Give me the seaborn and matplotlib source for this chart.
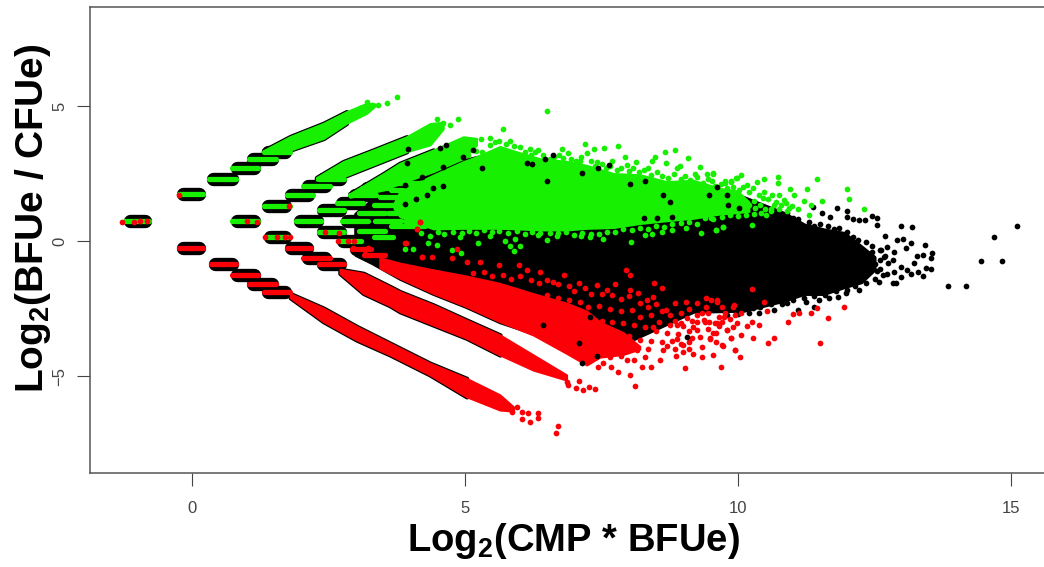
import matplotlib
matplotlib.use('Agg')
import matplotlib.pyplot as plt
import seaborn as sns

# tick values
x_ticks = [0, 5, 10, 15]
y_ticks = [-5, 0, 5]

# short horizontal runs of low count genes: y, first x, last x
up_dash_y = [1.73, 2.30, 2.72, 3.04, 3.31, 0.74, 0.74, 1.30, 1.70, 2.04, 2.30, 0.74, 1.15, 1.42,
             1.70, 1.98, 0.74, 0.74, 1.05, 1.33, 0.74, 0.35, 0.38, 0.16, 0.0, 0.16,
             1.62, 1.88, 2.15, 0.55, 1.05, 0.74]
up_dash_x0 = [-0.28, 0.27, 0.70, 1.0, 1.28, -1.26, 0.70, 1.28, 1.70, 2.0, 2.28, 1.86, 2.28, 2.62,
              2.86, 3.08, 2.71, 3.32, 3.02, 3.29, 3.87, 2.28, 3.02, 1.31, 2.65, 3.29,
              3.40, 3.60, 3.70, 3.60, 3.55, 4.30]
up_dash_x1 = [0.24, 0.85, 1.25, 1.58, 1.83, -0.74, 1.25, 1.83, 2.25, 2.56, 2.83, 2.41, 2.83, 3.17,
              3.41, 3.63, 3.26, 3.87, 3.57, 3.84, 4.36, 2.83, 3.57, 1.83, 3.14, 3.72,
              4.00, 4.20, 4.25, 4.30, 4.20, 4.90]

down_dash_y = [-0.27, -0.86, -1.26, -1.59, -1.88, -0.27, -0.62, -0.86, -0.31, -0.52]
down_dash_x0 = [-0.28, 0.30, 0.70, 1.0, 1.28, 1.70, 2.0, 2.28, 2.89, 3.11]
down_dash_x1 = [0.24, 0.85, 1.25, 1.58, 1.83, 2.22, 2.56, 2.83, 3.32, 3.57]

# green diagonal arms: x, lower edge, upper edge
arm_u1_x = [1.31, 1.80, 2.41, 2.83, 3.20, 3.35]
arm_u1_lo = [3.25, 3.37, 3.80, 4.36, 4.73, 5.00]
arm_u1_hi = [3.35, 3.87, 4.36, 4.79, 5.10, 5.08]

arm_u2_x = [2.28, 2.77, 3.32, 3.93, 4.36, 4.60]
arm_u2_lo = [2.25, 2.38, 2.82, 3.31, 3.56, 4.15]
arm_u2_hi = [2.35, 2.94, 3.37, 3.86, 4.35, 4.40]

arm_u3_x = [2.89, 3.51, 3.81, 4.42, 4.97, 5.21]
arm_u3_lo = [1.62, 1.89, 2.13, 2.57, 3.06, 3.55]
arm_u3_hi = [1.75, 2.50, 2.88, 3.37, 3.86, 3.80]

# red diagonal arms
arm_d1_x = [1.80, 2.41, 3.02, 3.63, 4.36, 5.03, 5.64, 5.89]
arm_d1_lo = [-2.10, -2.99, -3.67, -4.22, -4.96, -5.77, -6.26, -6.30]
arm_d1_hi = [-1.95, -2.49, -3.17, -3.79, -4.53, -5.09, -5.70, -6.15]

arm_d2_x = [2.71, 3.14, 3.63, 3.81, 4.42, 5.03, 5.64, 6.25, 6.86]
arm_d2_lo = [-1.20, -1.94, -2.40, -2.62, -3.11, -3.60, -4.22, -4.78, -5.15]
arm_d2_hi = [-1.05, -1.20, -1.69, -1.88, -2.37, -2.93, -3.48, -4.22, -4.96]

# dense clouds
black_x = [3.0, 3.3, 3.81, 4.42, 5.03, 5.64, 6.37, 7.23, 8.21, 9.18, 10.11, 10.84, 11.21, 11.57, 11.94, 12.25, 12.49]
black_hi = [1.00, 1.50, 1.95, 2.50, 3.00, 3.30, 2.90, 2.60, 2.20, 2.00, 1.60, 1.02, 0.59, 0.41, 0.28, -0.21, -0.60]
black_lo = [-0.50, -0.80, -1.38, -1.94, -2.43, -2.99, -3.48, -4.40, -3.50, -2.60, -2.56, -2.19, -1.94, -1.94, -1.69, -1.51, -1.05]

green_x = [3.70, 3.81, 4.42, 4.97, 5.21, 5.64, 5.95, 6.37, 6.86, 7.23, 7.72, 8.21, 8.69, 9.18, 9.67, 9.99, 10.20]
green_hi = [1.40, 1.85, 2.44, 2.94, 3.12, 3.50, 3.30, 3.05, 2.95, 2.80, 2.50, 2.45, 2.20, 2.25, 1.95, 1.85, 1.45]
green_lo = [1.20, 0.90, 0.45, 0.47, 0.47, 0.47, 0.45, 0.41, 0.41, 0.47, 0.50, 0.65, 0.75, 0.84, 1.00, 1.05, 1.10]

red_x = [3.44, 3.81, 4.42, 5.03, 5.64, 6.25, 6.86, 7.23, 7.47, 7.90, 8.20]
red_hi = [-0.62, -0.82, -1.07, -1.30, -1.57, -1.95, -2.30, -2.60, -3.00, -3.40, -3.90]
red_lo = [-1.00, -1.38, -1.94, -2.43, -2.99, -3.48, -4.16, -4.59, -4.30, -4.20, -4.00]

# single points that stand apart
black_px = [15.11, 14.68, 14.45, 14.84, 13.84, 14.18, 12.98, 13.18, 13.42, 13.56, 13.53, 13.54, 13.38, 13.28,
            13.44, 13.38, 13.30, 13.16, 13.08, 13.02, 12.92, 12.70, 12.55, 12.46, 12.54, 12.33, 12.22, 12.11,
            11.99, 11.99, 11.81, 11.53, 11.38, 11.68, 12.83, 12.89, 12.58, 12.98, 13.16, 13.22, 13.10, 12.86,
            12.73, 12.98, 12.83, 12.67, 12.86, 12.73, 12.61, 12.22, 11.97, 11.83, 11.67, 11.48, 11.25, 11.10,
            11.39, 10.90, 10.66, 10.28, 10.38,
            10.9, 11.0, 11.1, 11.3, 11.4, 11.5, 11.65, 11.75, 11.85, 12.0, 12.1, 12.2, 12.35, 12.45, 12.6, 12.7,
            12.75, 12.6, 12.65, 12.5, 12.35, 12.15, 12.0, 11.8, 11.6, 11.4, 11.2, 11.0, 10.8, 10.6, 10.4, 10.2,
            10.0, 9.8, 12.4, 12.5, 12.35, 12.55, 12.45, 12.6]
black_py = [0.55, 0.16, -0.74, -0.74, -1.67, -1.67, 0.55, 0.53, -0.16, -0.46, -0.64, -1.05, -0.52, -0.56,
            -1.01, -1.30, -1.14, -0.09, -0.27, 0.06, 0.04, 0.18, 0.59, 0.94, 0.84, 0.78, 0.78, 0.80,
            1.12, 0.88, 1.22, 1.05, 1.27, 0.90, -1.57, -1.57, -1.51, -1.32, -1.22, -0.83, -1.07, -1.14,
            -1.22, -0.95, -0.70, -0.58, -0.40, -0.21, -0.33, -1.82, -1.94, -2.06, -2.12, -2.19, -2.25, -2.56,
            -2.43, -2.31, -2.56, -2.49, -2.65,
            1.05, 0.85, 0.80, 0.70, 0.55, 0.62, 0.55, 0.45, 0.50, 0.35, 0.15, 0.05, -0.05, -0.20, -0.35, -0.55,
            -0.80, -1.05, -1.25, -1.40, -1.55, -1.65, -1.80, -1.85, -2.00, -2.05, -2.10, -2.20, -2.35, -2.35,
            -2.45, -2.65, -2.70, -2.75, -0.55, -0.85, -1.25, -1.10, -0.40, -0.70]

# black specks showing through the green and red clouds
speck_x = [6.47, 7.14, 6.13, 6.22, 6.62, 7.63, 7.44, 6.50, 8.30, 8.63, 8.75, 9.46, 9.79, 9.61, 8.02, 5.15, 4.97,
           4.60, 4.21, 3.90, 4.65, 3.96, 4.54, 3.93, 4.11, 4.30, 4.42, 4.60, 5.31, 3.90, 8.51, 8.27, 8.79, 10.01,
           9.82, 7.41, 7.14, 7.29, 7.08, 6.43, 9.06]
speck_y = [3.02, 2.53, 2.90, 2.85, 3.18, 2.80, 2.69, 2.22, 2.22, 1.70, 1.46, 1.70, 1.70, 1.99, 2.10, 3.37, 3.10,
           2.75, 2.38, 2.07, 3.55, 3.39, 3.45, 2.88, 1.55, 1.70, 1.95, 2.04, 2.69, 1.36, 0.84, 0.84, 0.90, 1.21,
           1.33, -4.26, -4.53, -2.80, -3.79, -3.11, -3.57]

green_px = [3.75, 3.57, 3.41, 3.29, 3.20, 3.08, 4.88, 4.73, 4.48, 4.60, 5.70, 5.46, 5.29, 6.50, 7.20, 7.36, 7.55,
            7.80, 6.78, 6.89, 6.34, 6.19, 7.23, 7.69, 7.41, 7.11, 7.93, 8.14, 8.48, 8.66, 8.85, 9.08, 8.43, 8.69,
            8.94, 8.36, 7.96, 9.30, 9.55, 9.21, 8.88, 9.98, 9.88, 9.76, 9.52,
            11.45, 12.0, 12.03, 12.3, 11.54, 11.27, 10.74, 10.73, 10.48, 10.35, 10.05, 9.97, 9.87, 9.55, 9.44,
            9.77, 10.17, 10.48, 10.96, 11.03, 10.75, 11.21, 11.33, 11.09, 10.93, 10.84, 10.66, 10.51, 10.26,
            9.72, 9.59, 11.30, 10.32, 10.11, 9.96, 9.74, 9.50,
            5.24, 5.73, 5.92, 5.82, 6.01, 5.90, 4.77, 4.92, 8.04, 8.30, 8.43, 8.60, 8.79, 9.05, 9.32, 9.59, 9.72,
            7.53, 7.29, 7.13, 6.68, 6.50, 6.34, 5.46, 4.91, 4.48, 4.33, 4.05, 3.90]
green_py = [5.32, 5.10, 5.04, 5.04, 5.16, 4.91, 4.51, 4.30, 4.51, 4.38, 4.14, 3.80, 3.76, 4.83, 3.59, 3.42, 3.43,
            3.51, 3.39, 3.27, 3.37, 3.41, 3.27, 2.97, 2.94, 2.97, 3.10, 2.94, 3.12, 3.28, 3.36, 3.07, 2.96, 2.88,
            2.79, 2.69, 2.81, 2.73, 2.51, 2.48, 2.69, 2.32, 2.22, 2.13, 2.22,
            2.30, 1.94, 1.57, 1.18, 1.47, 1.91, 2.38, 2.15, 2.31, 2.18, 2.46, 2.32, 2.20, 2.50, 2.50,
            2.23, 2.07, 1.83, 1.91, 1.70, 1.70, 1.49, 1.33, 1.19, 1.21, 1.52, 1.33, 0.96, 0.59,
            0.53, 0.41, 0.96, 1.21, 1.27, 1.21, 1.39, 0.84,
            -0.06, 0.01, 0.06, -0.17, -0.17, -0.37, -0.33, -0.43, -0.05, 0.22, 0.26, 0.32, 0.41, 0.47, 0.28, 0.41,
            0.53, 0.06, 0.16, 0.18, 0.18, 0.04, 0.22, 0.18, 0.16, -0.15, -0.09, -0.30, -0.30]

# green points along the rough top and bottom of the cloud
green_edge_x = [5.05, 5.2, 5.32, 5.45, 5.55, 5.62, 5.75, 5.82, 5.9, 6.0, 6.1, 6.2, 6.28, 6.42, 6.55, 6.63, 6.72,
                6.8, 6.95, 7.03, 7.12, 7.3, 7.38, 7.5, 7.58, 7.66, 7.78, 7.85, 8.0, 8.08, 8.18, 8.28, 8.4, 8.52,
                8.6, 8.72, 8.82, 8.95, 9.03, 9.12, 9.25, 9.35, 9.45, 9.58, 9.68, 9.8, 9.9, 10.02, 10.1, 10.2,
                10.28, 10.38, 10.45, 10.55, 10.62, 10.7, 10.78, 10.88, 10.98, 10.3, 10.4, 10.5, 10.2, 10.6,
                4.2, 4.35, 4.5, 4.62, 4.78, 4.95, 5.08, 5.2, 5.35, 5.5, 5.62, 5.78, 5.95, 6.1, 6.22, 6.38, 6.55,
                6.7, 6.85, 7.0, 7.15, 7.3, 7.45, 7.6, 7.75, 7.9, 8.05, 8.2, 8.35, 8.5, 8.65, 8.8, 8.95, 9.1, 9.25,
                9.4, 9.55, 9.7, 9.85, 10.0, 10.15, 10.3, 10.42, 10.6, 10.75, 10.9]
green_edge_y = [3.2, 3.35, 3.3, 3.55, 3.65, 3.72, 3.6, 3.7, 3.52, 3.48, 3.3, 3.18, 3.28, 3.2, 3.05, 3.1, 3.2,
                3.08, 3.05, 2.95, 3.12, 2.95, 2.78, 2.85, 2.7, 2.78, 2.62, 2.72, 2.6, 2.72, 2.55, 2.62, 2.45, 2.56,
                2.4, 2.32, 2.48, 2.3, 2.42, 2.25, 2.38, 2.15, 2.28, 2.05, 2.12, 1.95, 2.0, 1.9, 2.0, 1.82,
                1.95, 1.7, 1.6, 1.55, 1.7, 1.45, 1.35, 1.4, 1.3, 1.5, 1.35, 1.2, 1.35, 1.2,
                0.3, 0.2, 0.35, 0.25, 0.35, 0.3, 0.38, 0.28, 0.4, 0.33, 0.38, 0.28, 0.38, 0.25, 0.33, 0.3, 0.3,
                0.28, 0.33, 0.22, 0.3, 0.26, 0.25, 0.35, 0.32, 0.45, 0.42, 0.5, 0.45, 0.55, 0.52, 0.62, 0.65, 0.72,
                0.62, 0.85, 0.8, 0.9, 0.98, 0.92, 0.95, 1.0, 1.05, 1.1, 1.18, 1.1]

red_px = [-1.28, -1.07, -0.95, -0.82, -0.23, 1.0, 1.19, 1.78, 1.33, 1.55, 1.70, 1.80, 2.44, 2.69, 2.68, 2.85, 2.97,
          2.95, 3.23, 3.17, 4.18, 4.12, 3.90, 4.21, 4.86, 4.18, 4.13, 3.92,
          5.95, 6.04, 6.16, 6.34, 6.34, 6.19, 6.04, 6.71, 6.66, 5.86,
          6.86, 6.89, 7.09, 7.27, 7.39, 7.17, 7.03,
          10.26, 10.48, 11.95, 11.65, 11.44, 11.33, 11.12, 11.0, 10.92, 10.54, 11.5, 10.66, 10.55, 10.28, 10.39,
          10.25, 10.17, 10.06, 9.88, 9.8, 9.71, 9.59, 9.59, 9.49, 9.94, 9.99, 9.9, 9.74, 9.62, 9.47, 9.5, 9.62,
          9.9, 9.77, 10.05, 9.41,
          9.68, 9.03, 8.11, 8.03, 7.81, 7.67, 7.44, 7.53, 8.24, 8.41, 8.86, 9.18, 9.34, 9.55, 9.95, 10.04, 9.88,
          9.73, 9.49, 9.34, 9.15, 9.0, 8.88, 8.63, 8.57, 7.96,
          4.21, 4.39, 4.76, 5.03, 5.28, 5.62, 5.98, 6.13, 6.37, 6.81, 6.62, 7.08, 7.41, 7.75, 7.94, 8.02, 8.47, 8.6,
          8.17, 8.02, 7.6, 8.85, 9.05, 9.24, 9.41, 9.61, 9.7, 9.92, 9.58, 9.79, 9.34, 9.06, 8.88, 9.18, 9.37, 8.45,
          8.33, 8.69, 9.95]
red_py = [0.72, 0.72, 0.74, 0.74, 1.70, 0.74, 0.70, 1.30, 0.15, 0.15, 0.15, 0.16, 0.32, 0.28, 0.01, 0.01, 0.01,
          -0.27, -0.27, -0.48, 0.72, 0.43, -0.08, -0.58, -0.30, 0.71, 0.44, -0.09,
          -6.13, -6.32, -6.38, -6.38, -6.57, -6.72, -6.59, -6.84, -7.12, -6.32,
          -5.21, -5.33, -5.19, -5.40, -5.48, -5.50, -5.44,
          -1.78, -2.27, -2.46, -2.84, -2.49, -2.65, -2.68, -2.69, -3.0, -2.59, -3.77, -3.61, -3.79, -3.58, -3.10,
          -2.99, -3.15, -3.48, -3.61, -3.30, -3.85, -3.73, -3.40, -3.61, -4.04, -3.05, -3.17, -2.80, -3.05, -2.99,
          -2.19, -2.25, -2.43, -2.68, -2.68, -2.43,
          -4.68, -4.69, -5.36, -4.96, -4.84, -4.65, -4.68, -4.51, -4.65, -4.65, -4.26, -4.18, -4.31, -4.22, -4.04,
          -4.31, -3.60, -3.88, -3.63, -3.91, -3.60, -3.85, -3.64, -4.04, -4.41, -4.41,
          -0.60, -0.58, -0.64, -0.76, -0.76, -0.89, -0.89, -1.07, -1.14, -1.26, -1.51, -1.57, -1.63, -1.60, -1.07,
          -1.26, -1.57, -1.75, -1.94, -1.81, -1.81, -2.31, -2.25, -2.31, -2.12, -2.19, -2.43, -2.37, -3.05, -3.30,
          -2.68, -2.86, -3.11, -3.17, -2.93, -2.06, -2.18, -2.56, -2.74]

# red points in the loose part of the cloud
red_loose_x = [5.15, 5.35, 5.5, 5.7, 5.85, 6.0, 6.2, 6.35, 6.5, 6.7, 6.9, 7.0, 7.2, 7.3, 7.5, 7.7, 7.85, 8.0, 8.2,
               8.35, 8.5, 8.6, 8.75, 8.95, 9.1, 9.25, 9.45, 9.65,
               6.5, 6.7, 6.9, 7.1, 7.25, 7.45, 7.65, 7.85, 8.05, 8.2, 8.4, 8.55, 8.75, 8.95, 9.15,
               6.9, 7.1, 7.3, 7.5, 7.7, 7.9, 8.1, 8.3, 8.5, 8.7, 8.9, 9.1,
               7.4, 7.6, 7.8, 8.0, 8.2, 8.4, 8.6, 8.35, 8.15, 7.95, 7.75, 7.55, 7.35, 7.65, 7.4, 7.85, 8.3, 8.1,
               8.8, 8.95, 9.1, 9.25, 9.3, 9.45, 9.55, 9.65, 8.7, 8.85, 9.0, 9.1, 9.4, 9.0, 8.85, 9.25, 9.7, 9.85,
               8.45]
red_loose_y = [-1.2, -1.15, -1.3, -1.25, -1.4, -1.3, -1.45, -1.55, -1.45, -1.6, -1.65, -1.85, -1.75, -1.95, -1.95,
               -2.0, -2.15, -2.05, -2.3, -2.45, -2.35, -2.6, -2.75, -2.65, -2.5, -2.75, -2.65, -2.8,
               -2.0, -2.1, -2.2, -2.25, -2.45, -2.4, -2.5, -2.6, -2.55, -2.8, -2.75, -3.0, -3.1, -3.05, -2.95,
               -2.6, -2.75, -2.8, -2.95, -3.0, -3.05, -3.1, -3.2, -3.35, -3.4, -3.45, -3.35,
               -3.4, -3.45, -3.55, -3.5, -3.65, -3.7, -3.75, -4.0, -4.05, -3.95, -4.0, -3.95, -3.85, -4.3, -4.3,
               -4.25, -4.3, -4.4,
               -3.7, -3.8, -3.75, -3.3, -3.55, -3.25, -3.4, -3.15, -3.9, -4.0, -4.1, -4.0, -3.0, -3.15, -2.95,
               -3.0, -3.0, -2.9, -3.2]

GREEN = '#17f000'
RED = '#fb0007'
DOT = 17
FONT_NARROW = ['Liberation Sans Narrow', 'Liberation Sans']

sns.set_style("white")
plt.rcParams['font.family'] = ['Liberation Sans', 'DejaVu Sans']
plt.rcParams['mathtext.fontset'] = 'custom'
plt.rcParams['mathtext.bf'] = 'Liberation Sans:bold'
plt.rcParams['mathtext.rm'] = 'Liberation Sans:bold'

fig = plt.figure(figsize=(10.44, 5.67), dpi=100)
ax = fig.add_axes([90 / 1044, (567 - 473) / 567, 960 / 1044, 466 / 567])


def band(xs, lo, hi, color, edge_n=0):
    # black edge only where the black points still peek out from under the colour
    if edge_n:
        ax.fill_between(xs[:edge_n], lo[:edge_n], hi[:edge_n], color='black', linewidth=3.2,
                        joinstyle='round', zorder=2)
    ax.fill_between(xs, lo, hi, color=color, linewidth=1.5, zorder=3)


def dashes(ys, x0, x1, color):
    black_in = 0.12
    col_in = 0.04
    ax.hlines(ys, [v + black_in for v in x0], [v - black_in for v in x1], colors='black',
              linewidth=9.6, capstyle='round', zorder=2)
    ax.hlines(ys, [v + col_in for v in x0], [v - col_in for v in x1], colors=color,
              linewidth=3.8, capstyle='round', zorder=4)


ax.fill_between(black_x, black_lo, black_hi, color='black', linewidth=3, zorder=1)
band(arm_u1_x, arm_u1_lo, arm_u1_hi, GREEN, 4)
band(arm_u2_x, arm_u2_lo, arm_u2_hi, GREEN, 4)
band(arm_u3_x, arm_u3_lo, arm_u3_hi, GREEN, 4)
band(arm_d1_x, arm_d1_lo, arm_d1_hi, RED, 6)
band(arm_d2_x, arm_d2_lo, arm_d2_hi, RED, 7)
band(green_x, green_lo, green_hi, GREEN)
band(red_x, red_lo, red_hi, RED)
dashes(up_dash_y, up_dash_x0, up_dash_x1, GREEN)
dashes(down_dash_y, down_dash_x0, down_dash_x1, RED)

sns.scatterplot(x=black_px, y=black_py, color='black', s=DOT, linewidth=0, ax=ax, zorder=2)
sns.scatterplot(x=green_px, y=green_py, color=GREEN, s=DOT, linewidth=0, ax=ax, zorder=5)
sns.scatterplot(x=green_edge_x, y=green_edge_y, color=GREEN, s=DOT, linewidth=0, ax=ax, zorder=5)
sns.scatterplot(x=red_px, y=red_py, color=RED, s=DOT, linewidth=0, ax=ax, zorder=5)
sns.scatterplot(x=red_loose_x, y=red_loose_y, color=RED, s=DOT, linewidth=0, ax=ax, zorder=5)
sns.scatterplot(x=speck_x, y=speck_y, color='black', s=DOT, linewidth=0, ax=ax, zorder=6)

ax.set_xlim((90 - 192) / 54.6, (1050 - 192) / 54.6)
ax.set_ylim((241 - 473) / 27, (241 - 7) / 27)
ax.set_xticks(x_ticks)
ax.set_yticks(y_ticks)
ax.tick_params(axis='x', length=9.4, width=0.8, color='#444444', pad=11, bottom=True)
ax.tick_params(axis='y', length=9.4, width=0.8, color='#444444', pad=7, left=True)
for lab in ax.get_xticklabels():
    lab.set(family=FONT_NARROW, fontsize=12, color='#444444')
for lab in ax.get_yticklabels():
    lab.set(family=FONT_NARROW, fontsize=12, color='#444444', rotation=90, va='center')
for spine in ax.spines.values():
    spine.set_color('#555555')
    spine.set_linewidth(1.1)

ax.set_xlabel(r'Log$_{\mathbf{2}}$(CMP * BFUe)', fontsize=27.5, fontweight='bold', color='black')
ax.set_ylabel(r'Log$_{\mathbf{2}}$(BFUe / CFUe)', fontsize=28, fontweight='bold', color='black')
ax.xaxis.set_label_coords((573 - 90) / 960, (473 - 541) / 466)
ax.yaxis.set_label_coords((33 - 90) / 960, (473 - 218) / 466)
ax.xaxis.label.set_va('center')
ax.yaxis.label.set_va('center')

fig.savefig('out.png', dpi=100)
